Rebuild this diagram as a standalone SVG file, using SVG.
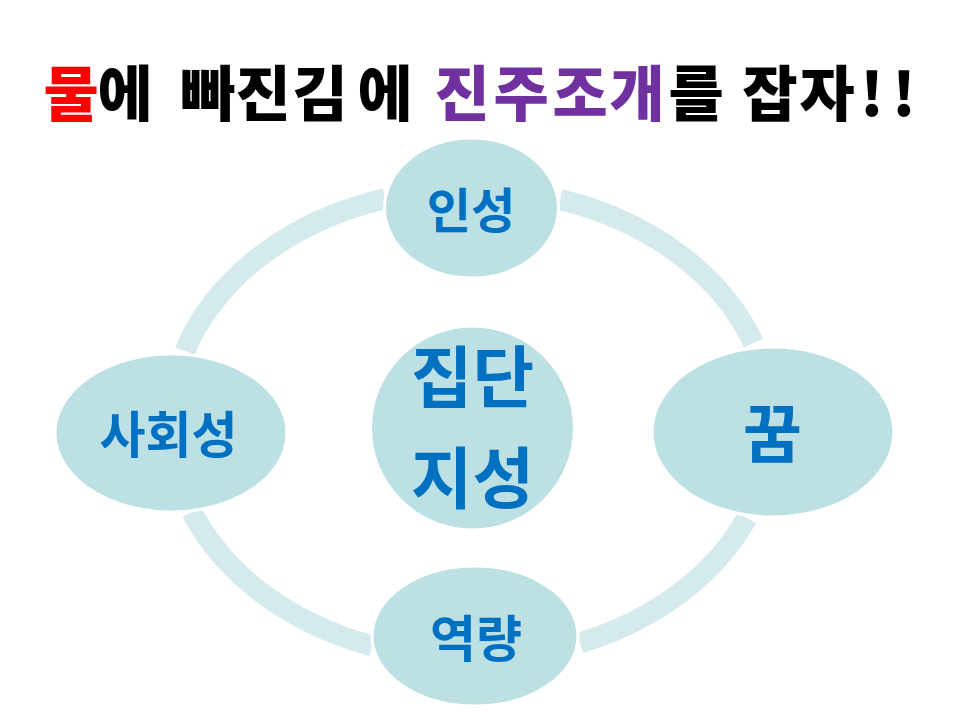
<svg xmlns="http://www.w3.org/2000/svg" width="960" height="720" viewBox="0 0 960 720">
<style>
.ring{fill:none;stroke:#d4eaed;stroke-width:21;stroke-linecap:butt}
.node{fill:#bce0e4;stroke:#ffffff;stroke-width:3}
.lbl{font-family:"Noto Sans CJK KR","Noto Sans",sans-serif;font-weight:bold;fill:#0070c0;text-anchor:middle}
.title{font-family:"Noto Sans CJK KR","Noto Sans",sans-serif;font-weight:900;font-size:60px;text-anchor:middle}
</style>
<rect width="960" height="720" fill="#ffffff"/>
<g id="title">
<text class="title" y="116"><tspan x="71" fill="#ff0000">물</tspan><tspan x="125 208 263 320 385" fill="#000000">에빠진김에</tspan><tspan x="462 521 580 637" fill="#7030a0">진주조개</tspan><tspan x="696 770 827 872 904" fill="#000000">를잡자!!</tspan></text>
</g>
<g id="connectors">
<path class="ring" d="M184.9,351 A301,235 0 0 1 385,198.8"/>
<path class="ring" d="M560,199.5 A301,235 0 0 1 753.6,343"/>
<path class="ring" d="M746.9,518 A301,235 0 0 1 580,643"/>
<path class="ring" d="M372,645.9 A301,235 0 0 1 191.9,512"/>
</g>
<g id="node-insung">
<ellipse class="node" cx="471.5" cy="208" rx="87" ry="70"/>
<text class="lbl" x="471" y="228" font-size="48">인성</text>
</g>
<g id="node-sahoe">
<ellipse class="node" cx="171" cy="433" rx="116" ry="79"/>
<text class="lbl" x="168.5" y="453" font-size="50">사회성</text>
</g>
<g id="node-kkum">
<ellipse class="node" cx="773" cy="432" rx="121" ry="85"/>
<text class="lbl" x="772.5" y="457" font-size="64">꿈</text>
</g>
<g id="node-yeokryang">
<ellipse class="node" cx="475" cy="636" rx="103" ry="70"/>
<text class="lbl" x="476" y="657" font-size="50">역량</text>
</g>
<g id="node-center">
<circle class="node" cx="472.5" cy="428" r="102"/>
<text class="lbl" x="472.5" y="402" font-size="67">집단</text>
<text class="lbl" x="472.5" y="503" font-size="67">지성</text>
</g>
</svg>
